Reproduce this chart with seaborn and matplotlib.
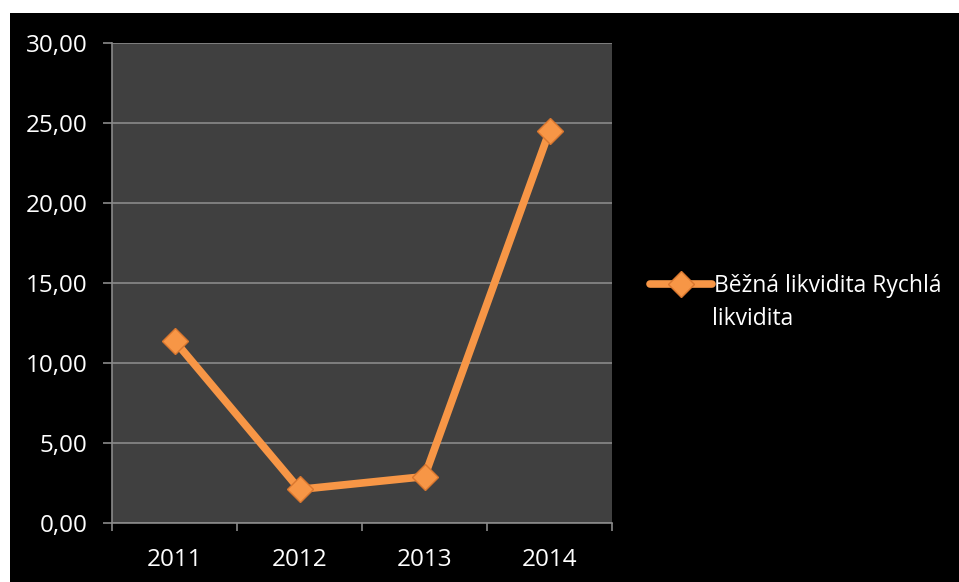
import matplotlib
matplotlib.use('Agg')
from matplotlib import pyplot as plt
import matplotlib.patches as mpatches
from matplotlib.ticker import FuncFormatter
import pandas as pd
import seaborn as sns

years = ['2011', '2012', '2013', '2014']
values = [11.4, 2.1, 2.9, 24.5]
series_label = 'Běžná likvidita Rychlá\nlikvidita'
y_ticks = [0, 5, 10, 15, 20, 25, 30]

ORANGE = '#F79646'
GRID = '#8a8a8a'


def MakePlot():
    sns.set_style('dark')
    plt.rcParams['font.family'] = ['Open Sans', 'DejaVu Sans']
    fig = plt.figure(figsize=(9.59, 5.82), dpi=100, facecolor='white')
    # black slide background, small white margin top/left
    fig.patches.append(mpatches.Rectangle((10 / 959, 0), 1, 1 - 13 / 582,
                                          transform=fig.transFigure,
                                          facecolor='black', edgecolor='none', zorder=-1))
    ax = fig.add_axes([112 / 959, 59 / 582, 500 / 959, 480 / 582])
    ax.set_facecolor('#404040')

    first, second = series_label.split('\n')
    df = pd.DataFrame({'year': years, 'value': values})
    sns.lineplot(data=df, x='year', y='value', ax=ax, color=ORANGE, lw=5.5,
                 marker='D', markersize=13.5, markerfacecolor=ORANGE,
                 markeredgecolor='#D9772F', markeredgewidth=1,
                 label=first, legend=False, solid_capstyle='round')

    ax.set_xlim(-0.5, 3.5)
    ax.set_ylim(0, 30)
    ax.set_yticks(y_ticks)
    ax.yaxis.set_major_formatter(FuncFormatter(lambda v, p: ('%.2f' % v).replace('.', ',')))
    ax.set_xticks([-0.5, 0.5, 1.5, 2.5, 3.5], minor=False)
    ax.set_xticklabels([])
    ax.set_xticks([0, 1, 2, 3], minor=True)
    ax.set_xticklabels(years, minor=True)
    ax.set_xlabel('')
    ax.set_ylabel('')

    ax.grid(False)
    ax.yaxis.grid(True, color=GRID, lw=1.2)
    for s in ['top', 'right']:
        ax.spines[s].set_visible(False)
    for s in ['left', 'bottom']:
        ax.spines[s].set_visible(True)
        ax.spines[s].set_color(GRID)
        ax.spines[s].set_linewidth(1.2)

    ax.tick_params(axis='y', which='major', length=6.5, width=1.2, color=GRID,
                   labelcolor='white', labelsize=17.5, pad=11, left=True)
    ax.tick_params(axis='x', which='major', length=6, width=1.2, color=GRID, bottom=True)
    ax.tick_params(axis='x', which='minor', length=0, labelcolor='white',
                   labelsize=17.5, pad=18)

    handles, labels = ax.get_legend_handles_labels()
    leg = fig.legend(handles, labels, loc='center left',
                     bbox_to_anchor=(650 / 959, 1 - 286 / 582),
                     frameon=False, borderpad=0, borderaxespad=0,
                     handlelength=2.7, handletextpad=0.1, fontsize=16.5)
    for t in leg.get_texts():
        t.set_color('white')
    # wrapped second line of the legend label
    fig.text(712 / 959, 1 - 319 / 582, second, color='white', fontsize=16.5,
             ha='left', va='center')

    fig.savefig('out.png', dpi=100, facecolor='white')


def main():
    MakePlot()


if __name__ == '__main__':
    main()
